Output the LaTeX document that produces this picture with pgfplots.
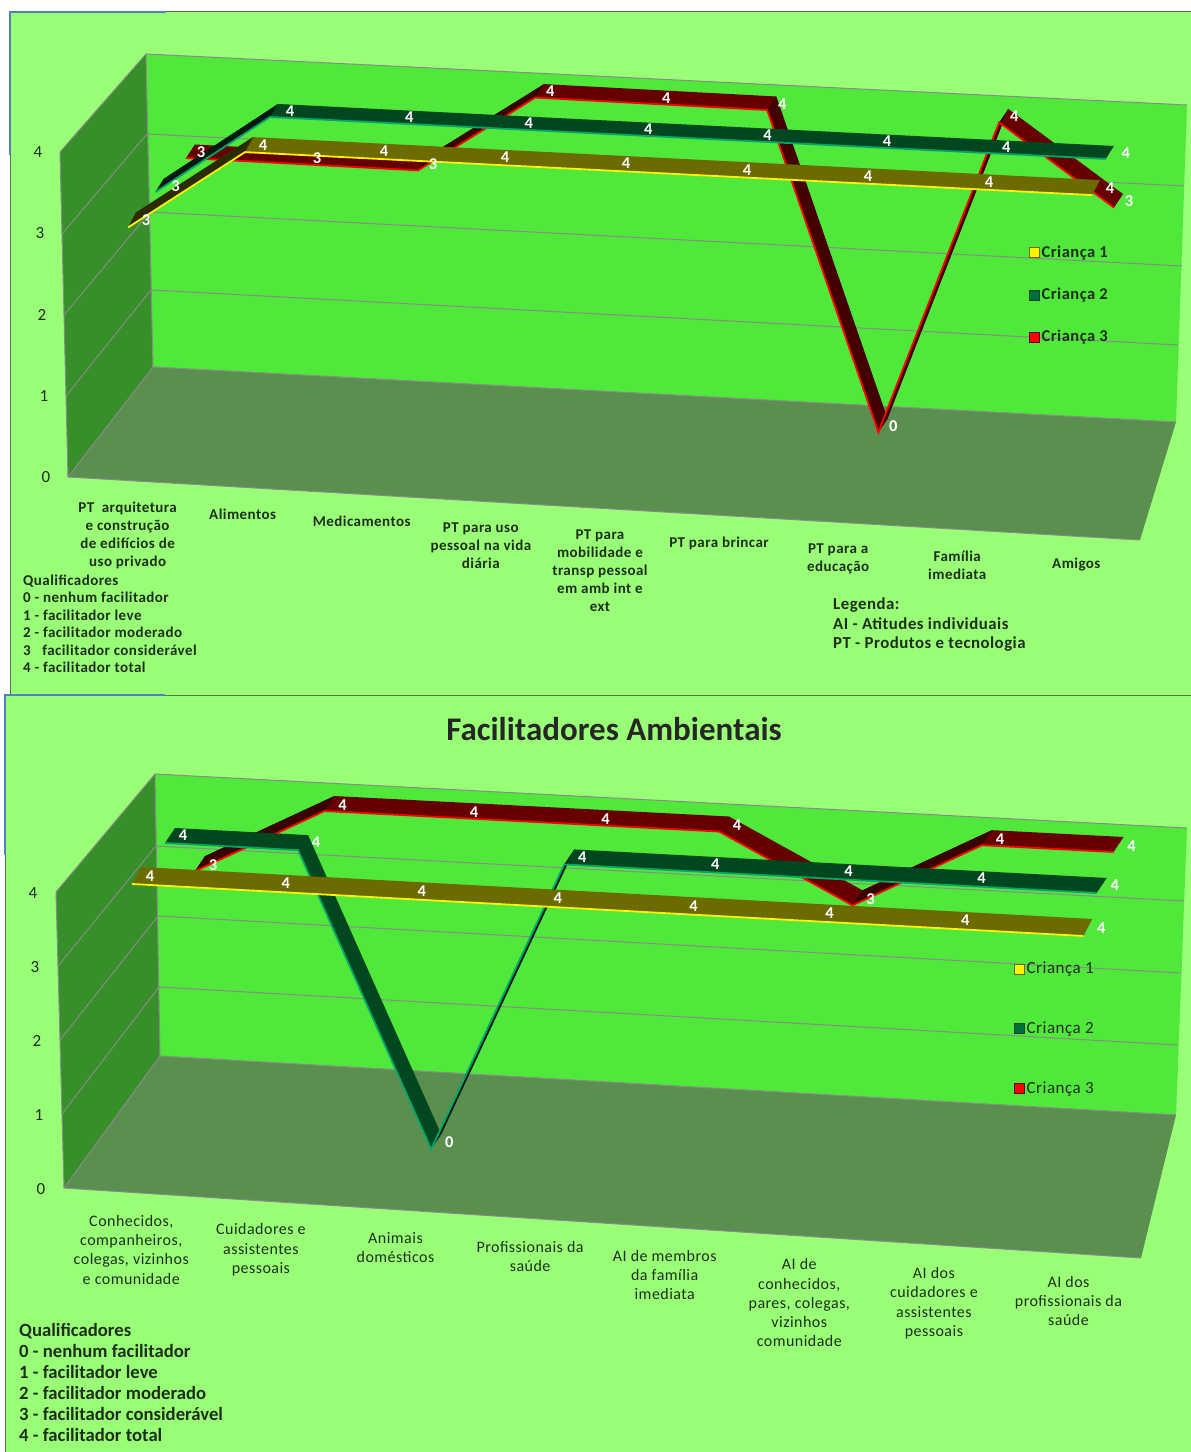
\documentclass[border=0pt]{standalone}
\usepackage{pgfplots}
\pgfplotsset{compat=1.18}
\usepackage{fontspec}
\setmainfont{Carlito}
\newfontfamily\spc[LetterSpace=3]{Carlito}
\definecolor{bgg}{HTML}{99FF77}
\definecolor{wall}{HTML}{50E83A}
\definecolor{lwall}{HTML}{368F28}
\definecolor{flr}{HTML}{5B8F50}
\definecolor{grd}{HTML}{8A8A8A}
\definecolor{fr}{HTML}{4E7A3E}
\definecolor{blu}{HTML}{4F81BD}
\definecolor{txt}{HTML}{1E2E1A}
\definecolor{olive}{HTML}{6B6B00}
\definecolor{oliveD}{HTML}{2B2B00}
\definecolor{teal}{HTML}{004720}
\definecolor{tealD}{HTML}{001A10}
\definecolor{tealE}{HTML}{00A868}
\definecolor{dred}{HTML}{660000}
\definecolor{dredD}{HTML}{3A0000}
\pgfplotsset{
  /pgf/number format/assume math mode=true,
  page/.style={scale only axis,width=1191pt,height=1452pt,xmin=0,xmax=1191,ymin=0,ymax=1452,y dir=reverse,hide axis,at={(0pt,0pt)},anchor=south west,clip=false,
    legend image code/.code={\draw[##1] (0pt,-5pt) rectangle (10pt,5pt);},
    legend cell align=left},
  poly/.style={draw=none,fill=#1,forget plot},
  ln/.style={forget plot},
  gl/.style={draw=grd,line width=1pt,forget plot},
  ser/.style={hide axis,clip=false,anchor=origin,xmin=0,ymin=0,ymax=1,zmin=0,zmax=4},
  edge/.style={draw=#1,line width=1.8pt},
  lab/.style 2 args={draw=none,mark=none,point meta=z,
    nodes near coords={\pgfmathprintnumber{\pgfplotspointmeta}},
    every node near coord/.append style={white,anchor=center,inner sep=0pt,font=\fontsize{16.5}{16.5}\selectfont\bfseries,xshift=#1pt,yshift=#2pt}},
  frame/.style={clip=false,anchor=origin,axis line style={draw=none},tick style={draw=none},major tick length=0pt,tick label style={text=txt},
    ytick=\empty,xmin=0,ymin=0,ymax=1,zmin=0,zmax=4,ztick={0,1,2,3,4},tick align=outside,grid=none,
    y={(10pt,10pt)}},
  % series geometry, top chart
  tA/.style={at={(140pt,980pt)},x={(121pt,-6.14pt)},y={(8pt,15pt)},z={(-4pt,81.5pt)},xmax=8},
  tB/.style={at={(170.6pt,1017pt)},x={(119.4pt,-6pt)},y={(8pt,13pt)},z={(-5pt,81pt)},xmax=8},
  tC/.style={at={(182.4pt,1057pt)},x={(116pt,-6.2pt)},y={(9pt,13.5pt)},z={(1.2pt,79pt)},xmax=8},
  % series geometry, bottom chart
  bA/.style={at={(140pt,268pt)},x={(135.9pt,-7.43pt)},y={(9pt,17pt)},z={(-2pt,75pt)},xmax=7},
  bB/.style={at={(165pt,317pt)},x={(133.1pt,-7.14pt)},y={(10pt,15pt)},z={(0pt,73pt)},xmax=7},
  bC/.style={at={(201pt,379.8pt)},x={(131.5pt,-6.83pt)},y={(10pt,15pt)},z={(-2pt,67pt)},xmax=7},
}
\begin{document}
\begin{tikzpicture}
\path[use as bounding box] (0pt,0pt) rectangle (1191pt,1452pt);
\fill[white] (0pt,0pt) rectangle (1191pt,1452pt);
% ---------- top panel: background, walls, texts, legend
\begin{axis}[page,legend style={at={(0.8640,0.8320)},anchor=north west,draw=none,fill=none,inner sep=0pt,row sep=25pt,font=\fontsize{16.5}{16.5}\selectfont\spc\bfseries,text=txt}]
\addplot[poly=bgg] coordinates {(10,12)(1191,12)(1191,695)(10,695)};
\addplot[ln,draw=fr,line width=1pt] coordinates {(166,12)(1191,12)};
\addplot[ln,draw=blu,line width=1.5pt] coordinates {(10,155)(10,12)(166,12)};
\addplot[ln,draw=fr,line width=1pt] coordinates {(10,155)(10,695)};
\addplot[poly=lwall] coordinates {(60,152)(146,54)(153,367)(68,477)};
\addplot[poly=wall] coordinates {(146,54)(1187,105)(1176,422)(153,367)};
\addplot[poly=flr] coordinates {(68,477)(153,367)(1176,422)(1140,540)};
\addplot[gl] coordinates {(60,152)(146,54)(1187,105)};
\addplot[gl] coordinates {(62,234)(147,134)(1184,186)};
\addplot[gl] coordinates {(64,315)(150,212)(1182,266)};
\addplot[gl] coordinates {(66,396)(151,290)(1178,345)};
\addplot[gl] coordinates {(68,477)(153,367)(1176,422)};
\addplot[gl] coordinates {(60,152)(68,477)(1140,540)};
\addplot[gl] coordinates {(146,54)(153,367)};
\addlegendimage{fill=yellow,draw=olive}\addlegendentry{Criança 1}
\addlegendimage{fill=teal!60!tealE,draw=teal}\addlegendentry{Criança 2}
\addlegendimage{fill=red,draw=dred}\addlegendentry{Criança 3}
\node[anchor=west,inner sep=0pt,text=txt,font=\fontsize{15}{17.5}\selectfont\spc\bfseries,align=left] at (axis cs:23,624) {Qualificadores\\0 - nenhum  facilitador\\1 - facilitador leve\\2 - facilitador moderado\\3 \ \ facilitador considerável\\4 - facilitador total};
\node[anchor=west,inner sep=0pt,text=txt,font=\fontsize{16.8}{19.5}\selectfont\spc\bfseries,align=left] at (axis cs:833,625) {Legenda:\\AI - Atitudes individuais\\PT - Produtos e tecnologia};
\end{axis}
% ---------- bottom panel
\begin{axis}[page,legend style={at={(0.8514,0.3388)},anchor=north west,draw=none,fill=none,inner sep=0pt,row sep=42.5pt,font=\fontsize{17}{17}\selectfont\spc,text=txt}]
\addplot[poly=bgg] coordinates {(5,695)(1191,695)(1191,1452)(5,1452)};
\addplot[ln,draw=fr,line width=1pt] coordinates {(165,695)(1191,695)};
\addplot[ln,draw=blu,line width=1.5pt] coordinates {(5,855)(5,695)(165,695)};
\addplot[ln,draw=fr,line width=1pt] coordinates {(5,855)(5,1452)};
\addplot[poly=lwall] coordinates {(56,892)(155,774)(160,1056)(64,1188)};
\addplot[poly=wall] coordinates {(155,774)(1187,828)(1176,1115)(160,1056)};
\addplot[poly=flr] coordinates {(64,1188)(160,1056)(1176,1115)(1141,1258)};
\addplot[gl] coordinates {(56,892)(155,774)(1187,828)};
\addplot[gl] coordinates {(58,966)(156,846)(1184,901)};
\addplot[gl] coordinates {(60,1040)(158,916)(1181,973)};
\addplot[gl] coordinates {(62,1114)(159,987)(1178,1045)};
\addplot[gl] coordinates {(64,1188)(160,1056)(1176,1115)};
\addplot[gl] coordinates {(56,892)(64,1188)(1141,1258)};
\addplot[gl] coordinates {(155,774)(160,1056)};
\addlegendimage{fill=yellow,draw=olive}\addlegendentry{Criança 1}
\addlegendimage{fill=teal!60!tealE,draw=teal}\addlegendentry{Criança 2}
\addlegendimage{fill=red,draw=dred}\addlegendentry{Criança 3}
\node[anchor=center,text=black!85,font=\fontsize{33}{33}\selectfont\bfseries] at (axis cs:614,729) {Facilitadores Ambientais};
\node[anchor=west,inner sep=0pt,text=txt,font=\fontsize{18.7}{21}\selectfont\bfseries,align=left] at (axis cs:19,1382.5) {Qualificadores\\0 - nenhum facilitador\\1 - facilitador leve\\2 - facilitador moderado\\3 - facilitador considerável\\4 - facilitador total};
\end{axis}
% ---------- frame axes with the real tick labels
\begin{axis}[frame,at={(68pt,975pt)},x={(119.1pt,-7pt)},z={(-2pt,81.25pt)},xmax=9,
  xtick={0.534,1.5,2.5,3.5,4.5,5.5,6.5,7.5,8.5},
  xticklabels={{PT\ \ arquitetura\\e construção\\de edifícios de\\uso privado},Alimentos,Medicamentos,{PT para uso\\pessoal na vida\\diária},{PT para\\mobilidade e\\transp pessoal\\em amb int e\\ext},PT para brincar,{PT para a\\educação},{Família\\imediata},Amigos},
  xticklabel style={anchor=north,align=center,xshift=-4pt,yshift=-18pt,font=\fontsize{15}{18}\selectfont\spc\bfseries},
  zticklabel style={anchor=center,xshift=-22pt,font=\fontsize{17}{17}\selectfont},
  ]
\addplot3[draw=none] coordinates {(0,0,0)(1,1,4)};
\end{axis}
\begin{axis}[frame,at={(64pt,264pt)},x={(134.6pt,-8.75pt)},z={(-2pt,74pt)},xmax=8,
  xtick={0.537,1.5,2.5,3.5,4.5,5.5,6.5,7.5},
  xticklabels={{Conhecidos,\\companheiros,\\colegas, vizinhos\\e comunidade},{Cuidadores e\\assistentes\\pessoais},{Animais\\domésticos},{Profissionais da\\saúde},{AI de membros\\da família\\imediata},{AI de\\conhecidos,\\pares, colegas,\\vizinhos\\comunidade},{AI  dos\\cuidadores e\\assistentes\\pessoais},{AI  dos\\profissionais da\\saúde}},
  xticklabel style={anchor=north,align=center,xshift=-5pt,yshift=-19pt,font=\fontsize{16}{19.3}\selectfont\spc},
  zticklabel style={anchor=center,xshift=-23pt,yshift=-1pt,font=\fontsize{17}{17}\selectfont},
  ]
\addplot3[draw=none] coordinates {(0,0,0)(1,1,4)};
\end{axis}
% ---------- top chart ribbons: Criança 3, 2, 1 (back to front)
\begin{axis}[ser,tC]
\addplot3[poly=dred] coordinates {(0,0,3)(1,0,3)(2,0,3)(3,0,4)(4,0,4)(5,0,4)(6,0,0)(7,0,4)(8,0,3)(8,1,3)(7,1,4)(6,1,0)(5,1,4)(4,1,4)(3,1,4)(2,1,3)(1,1,3)(0,1,3)};
\addplot3[poly=dredD] coordinates {(2,0,3)(3,0,4)(3,1,4)(2,1,3)};
\addplot3[poly=dredD!80!dred] coordinates {(5,0,4)(6,0,0)(6,1,0)(5,1,4)};
\addplot3[poly=dredD] coordinates {(6,0,0)(7,0,4)(7,1,4)(6,1,0)};
\addplot3[edge=red] coordinates {(0,0,3)(1,0,3)(2,0,3)(3,0,4)(4,0,4)(5,0,4)(6,0,0)(7,0,4)(8,0,3)};
\end{axis}
\begin{axis}[ser,tB]
\addplot3[poly=teal] coordinates {(0,0,3)(1,0,4)(2,0,4)(3,0,4)(4,0,4)(5,0,4)(6,0,4)(7,0,4)(8,0,4)(8,1,4)(7,1,4)(6,1,4)(5,1,4)(4,1,4)(3,1,4)(2,1,4)(1,1,4)(0,1,3)};
\addplot3[poly=tealD] coordinates {(0,0,3)(1,0,4)(1,1,4)(0,1,3)};
\addplot3[edge=tealE] coordinates {(0,0,3)(1,0,4)(2,0,4)(3,0,4)(4,0,4)(5,0,4)(6,0,4)(7,0,4)(8,0,4)};
\end{axis}
\begin{axis}[ser,tA]
\addplot3[poly=olive] coordinates {(0,0,3)(1,0,4)(2,0,4)(3,0,4)(4,0,4)(5,0,4)(6,0,4)(7,0,4)(8,0,4)(8,1,4)(7,1,4)(6,1,4)(5,1,4)(4,1,4)(3,1,4)(2,1,4)(1,1,4)(0,1,3)};
\addplot3[poly=oliveD] coordinates {(0,0,3)(1,0,4)(1,1,4)(0,1,3)};
\addplot3[edge=yellow] coordinates {(0,0,3)(1,0,4)(2,0,4)(3,0,4)(4,0,4)(5,0,4)(6,0,4)(7,0,4)(8,0,4)};
\end{axis}
% ---------- bottom chart ribbons
\begin{axis}[ser,bC]
\addplot3[poly=dred] coordinates {(0,0,3)(1,0,4)(2,0,4)(3,0,4)(4,0,4)(5,0,3)(6,0,4)(7,0,4)(7,1,4)(6,1,4)(5,1,3)(4,1,4)(3,1,4)(2,1,4)(1,1,4)(0,1,3)};
\addplot3[poly=dredD] coordinates {(0,0,3)(1,0,4)(1,1,4)(0,1,3)};
\addplot3[poly=dredD] coordinates {(5,0,3)(6,0,4)(6,1,4)(5,1,3)};
\addplot3[edge=red] coordinates {(0,0,3)(1,0,4)(2,0,4)(3,0,4)(4,0,4)(5,0,3)(6,0,4)(7,0,4)};
\end{axis}
\begin{axis}[ser,bB]
\addplot3[poly=teal] coordinates {(0,0,4)(1,0,4)(2,0,0)(3,0,4)(4,0,4)(5,0,4)(6,0,4)(7,0,4)(7,1,4)(6,1,4)(5,1,4)(4,1,4)(3,1,4)(2,1,0)(1,1,4)(0,1,4)};
\addplot3[poly=tealD] coordinates {(2,0,0)(3,0,4)(3,1,4)(2,1,0)};
\addplot3[edge=tealE] coordinates {(0,0,4)(1,0,4)(2,0,0)(3,0,4)(4,0,4)(5,0,4)(6,0,4)(7,0,4)};
\end{axis}
\begin{axis}[ser,bA]
\addplot3[poly=olive] coordinates {(0,0,4)(1,0,4)(2,0,4)(3,0,4)(4,0,4)(5,0,4)(6,0,4)(7,0,4)(7,1,4)(6,1,4)(5,1,4)(4,1,4)(3,1,4)(2,1,4)(1,1,4)(0,1,4)};
\addplot3[edge=yellow] coordinates {(0,0,4)(1,0,4)(2,0,4)(3,0,4)(4,0,4)(5,0,4)(6,0,4)(7,0,4)};
\end{axis}
% ---------- value labels on top of all ribbons
\begin{axis}[ser,tC]
\addplot3[lab={15}{6}] coordinates {(0,0,3)(1,0,3)(2,0,3)(3,0,4)(4,0,4)(5,0,4)(6,0,0)(7,0,4)(8,0,3)};
\end{axis}
\begin{axis}[ser,tB]
\addplot3[lab={20}{6}] coordinates {(0,0,3)(1,0,4)(2,0,4)(3,0,4)(4,0,4)(5,0,4)(6,0,4)(7,0,4)(8,0,4)};
\end{axis}
\begin{axis}[ser,tA]
\addplot3[lab={18}{7}] coordinates {(0,0,3)(1,0,4)(2,0,4)(3,0,4)(4,0,4)(5,0,4)(6,0,4)(7,0,4)(8,0,4)};
\end{axis}
\begin{axis}[ser,bC]
\addplot3[lab={18}{6}] coordinates {(0,0,3)(1,0,4)(2,0,4)(3,0,4)(4,0,4)(5,0,3)(6,0,4)(7,0,4)};
\end{axis}
\begin{axis}[ser,bB]
\addplot3[lab={18}{7.5}] coordinates {(0,0,4)(1,0,4)(2,0,0)(3,0,4)(4,0,4)(5,0,4)(6,0,4)(7,0,4)};
\end{axis}
\begin{axis}[ser,bA]
\addplot3[lab={18}{8}] coordinates {(0,0,4)(1,0,4)(2,0,4)(3,0,4)(4,0,4)(5,0,4)(6,0,4)(7,0,4)};
\end{axis}
\end{tikzpicture}
\end{document}
